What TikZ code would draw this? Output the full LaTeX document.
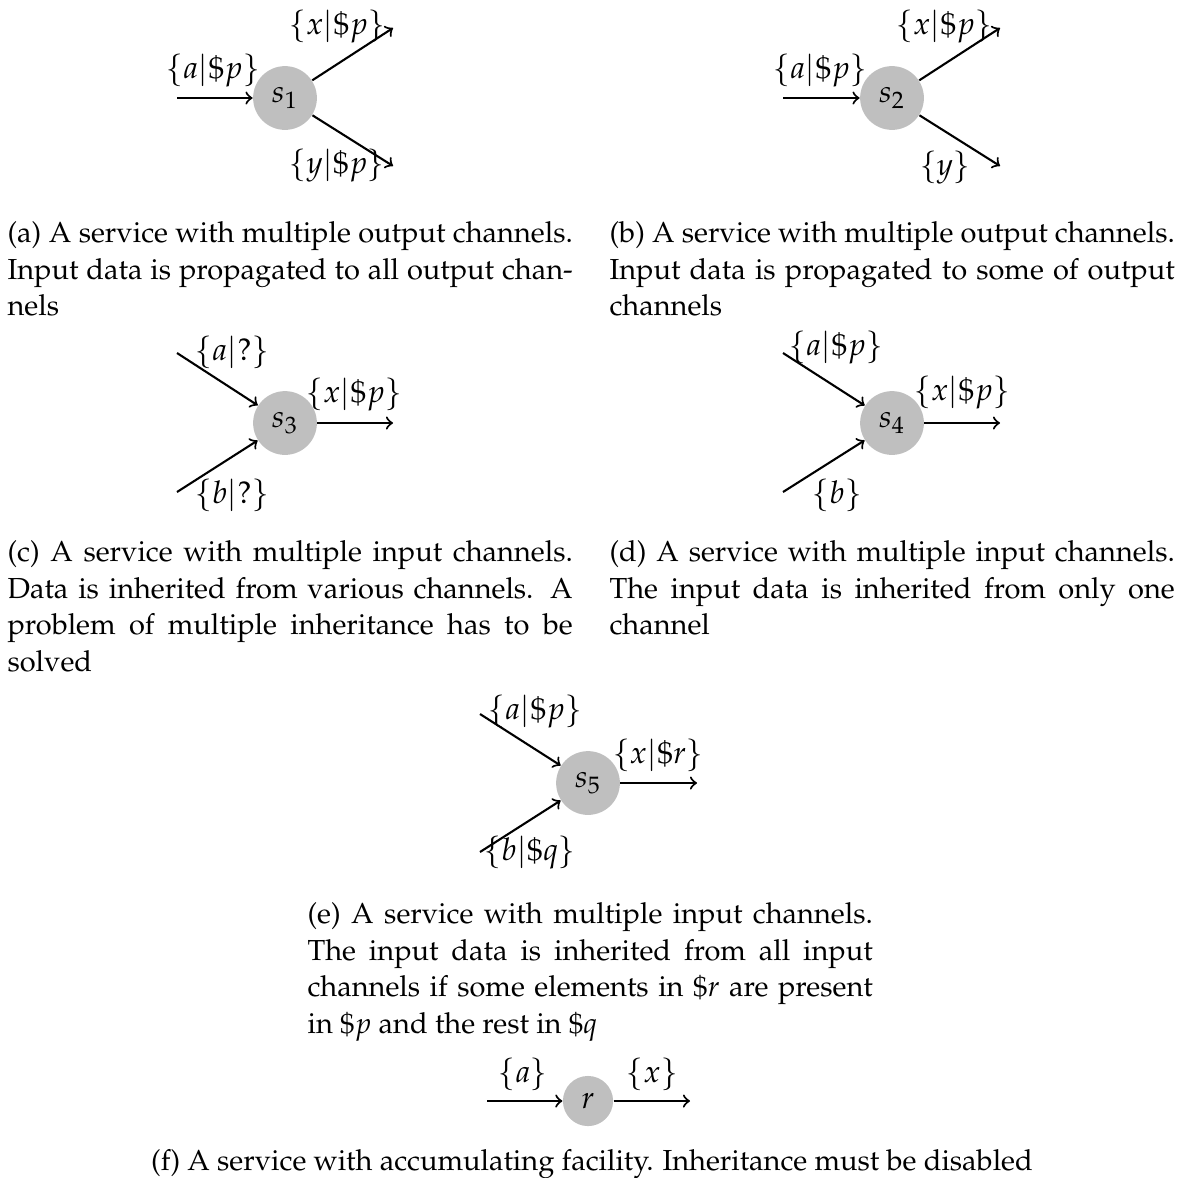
\documentclass[tikz,border=0pt]{standalone}
\usepackage[T1]{fontenc}
\usepackage{mathpazo}

\begin{document}
\begin{tikzpicture}[x=0.345pt,y=-0.345pt,
  svc/.style={circle,fill=lightgray,minimum size=22pt,inner sep=0pt,font=\fontsize{10.8}{13}\selectfont},
  acc/.style={circle,fill=lightgray,minimum size=17.3pt,inner sep=0pt,font=\fontsize{10.8}{13}\selectfont},
  flow/.style={->,line width=0.72pt},
  lbl/.style={inner sep=0pt,font=\fontsize{10.8}{13}\selectfont},
  captext/.style={anchor=north west,text width=195pt,align=justify,inner sep=0pt,
              font=\fontsize{10}{12.6}\selectfont},
  capline/.style={anchor=north,inner sep=0pt,font=\fontsize{10}{12.6}\selectfont}]
\useasboundingbox (0,0) rectangle (1181,1177);

% (a) one input, two outputs, data passed to both
\node[svc] (s1) at (285,98) {$s_1$};
\coordinate (s1in) at (177,98);
\coordinate (s1o1) at (393,28);
\coordinate (s1o2) at (393,166);
\draw[flow] (s1in) -- (s1);
\draw[flow] (s1) -- (s1o1);
\draw[flow] (s1) -- (s1o2);
\node[lbl] (s1la) at (213,71) {$\{a|\$p\}$};
\node[lbl] (s1lx) at (337,27) {$\{x|\$p\}$};
\node[lbl] (s1ly) at (337,166) {$\{y|\$p\}$};
\node[captext] (capa) at (7,221) {(a) A service with multiple output channels.\linebreak
  Input data is propagated to all output chan-\linebreak nels};

% (b) one input, two outputs, data passed to one
\node[svc] (s2) at (892,98) {$s_2$};
\coordinate (s2in) at (783,98);
\coordinate (s2o1) at (1000,28);
\coordinate (s2o2) at (1000,166);
\draw[flow] (s2in) -- (s2);
\draw[flow] (s2) -- (s2o1);
\draw[flow] (s2) -- (s2o2);
\node[lbl] (s2la) at (820,71) {$\{a|\$p\}$};
\node[lbl] (s2lx) at (944,27) {$\{x|\$p\}$};
\node[lbl] (s2ly) at (945,168) {$\{y\}$};
\node[captext] (capb) at (609,221) {(b) A service with multiple output channels.\linebreak
  Input data is propagated to some of output\linebreak channels};

% (c) two inputs, multiple inheritance
\node[svc] (s3) at (285,423) {$s_3$};
\coordinate (s3i1) at (177,353);
\coordinate (s3i2) at (177,492);
\coordinate (s3out) at (393,423);
\draw[flow] (s3i1) -- (s3);
\draw[flow] (s3i2) -- (s3);
\draw[flow] (s3) -- (s3out);
\node[lbl] (s3la) at (232,352) {$\{a|?\}$};
\node[lbl] (s3lb) at (232,495) {$\{b|?\}$};
\node[lbl] (s3lx) at (354,395) {$\{x|\$p\}$};
\node[captext] (capc) at (7,540) {(c) A service with multiple input channels.\linebreak
  Data is inherited from various channels. A\linebreak
  problem of multiple inheritance has to be\linebreak solved};

% (d) two inputs, inheritance from one channel
\node[svc] (s4) at (892,423) {$s_4$};
\coordinate (s4i1) at (783,353);
\coordinate (s4i2) at (783,492);
\coordinate (s4out) at (1000,423);
\draw[flow] (s4i1) -- (s4);
\draw[flow] (s4i2) -- (s4);
\draw[flow] (s4) -- (s4out);
\node[lbl] (s4la) at (836,348) {$\{a|\$p\}$};
\node[lbl] (s4lb) at (837,495) {$\{b\}$};
\node[lbl] (s4lx) at (962,393) {$\{x|\$p\}$};
\node[captext] (capd) at (609,540) {(d) A service with multiple input channels.\linebreak
  The input data is inherited from only one\linebreak channel};

% (e) two inputs, inheritance from all channels
\node[svc] (s5) at (588,783) {$s_5$};
\coordinate (s5i1) at (480,714);
\coordinate (s5i2) at (480,852);
\coordinate (s5out) at (697,783);
\draw[flow] (s5i1) -- (s5);
\draw[flow] (s5i2) -- (s5);
\draw[flow] (s5) -- (s5out);
\node[lbl] (s5la) at (535,712) {$\{a|\$p\}$};
\node[lbl] (s5lb) at (530,853) {$\{b|\$q\}$};
\node[lbl] (s5lx) at (658,755) {$\{x|\$r\}$};
\node[captext] (cape) at (307,902) {(e) A service with multiple input channels.\linebreak
  The input data is inherited from all input\linebreak
  channels if some elements in \$$r$ are present\linebreak
  in \$$p$ and the rest in \$$q$};

% (f) accumulating service
\node[acc] (r) at (588,1101) {$r$};
\coordinate (rin) at (487,1101);
\coordinate (rout) at (690,1101);
\draw[flow] (rin) -- (r);
\draw[flow] (r) -- (rout);
\node[lbl] (rla) at (523,1074) {$\{a\}$};
\node[lbl] (rlx) at (652,1074) {$\{x\}$};
\node[capline] (capf) at (592,1149) {(f) A service with accumulating facility. Inheritance must be disabled};
\end{tikzpicture}
\end{document}
